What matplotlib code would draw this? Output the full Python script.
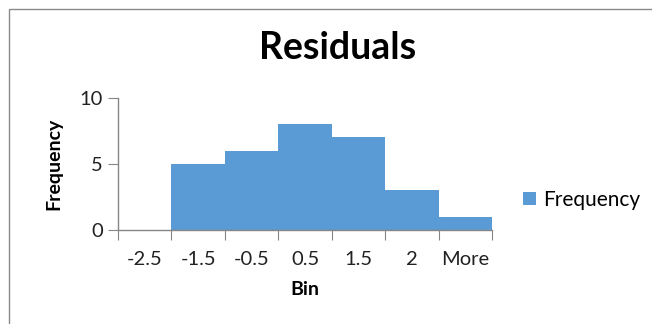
import matplotlib.pyplot as plt
from matplotlib.patches import Rectangle
import numpy as np

plt.rcParams['font.family'] = ['Lato', 'DejaVu Sans']

# Histogram bins and counts
bins = ['-2.5', '-1.5', '-0.5', '0.5', '1.5', '2', 'More']
frequency = [0, 5, 6, 8, 7, 3, 1]

bar_color = '#5B9BD5'
axis_color = '#868686'

fig = plt.figure(figsize=(6.52, 3.24), dpi=100)
ax = fig.add_axes([0.181, 0.291, 0.574, 0.407])

x = np.arange(len(bins))
ax.bar(x, frequency, width=1.0, color=bar_color, label='Frequency')

ax.set_xlim(-0.5, len(bins) - 0.5)
ax.set_ylim(0, 10)
ax.set_yticks([0, 5, 10])

# ticks sit on bin edges, labels sit at bin centres
ax.set_xticks(np.arange(len(bins) + 1) - 0.5)
ax.set_xticklabels([])
ax.set_xticks(x, minor=True)
ax.set_xticklabels(bins, minor=True)
ax.tick_params(axis='x', which='major', length=7, color=axis_color, direction='out')
ax.tick_params(axis='x', which='minor', length=0, pad=15, labelsize=14.5, labelcolor='#222222')
ax.tick_params(axis='y', length=7, color=axis_color, pad=4, labelsize=14.5, labelcolor='#222222')

for side in ['top', 'right']:
    ax.spines[side].set_visible(False)
for side in ['left', 'bottom']:
    ax.spines[side].set_color(axis_color)
    ax.spines[side].set_linewidth(1.0)

ax.set_xlabel('Bin', fontsize=14, fontweight='bold', labelpad=10)
ax.set_ylabel('Frequency', fontsize=14, fontweight='bold', labelpad=12)

fig.text(0.518, 0.851, 'Residuals', fontsize=27, fontweight='bold', ha='center', va='center')

ax.legend(loc='center left', bbox_to_anchor=(1.06, 0.225), frameon=False,
          fontsize=15, handlelength=0.6, handleheight=0.6, handletextpad=0.35,
          borderaxespad=0)

# chart area border
fig.patches.append(Rectangle((8.5 / 652, -0.1), 1.2, 1 - 9 / 324 + 0.1,
                             transform=fig.transFigure, fill=False,
                             edgecolor='#8a8a8a', linewidth=1.0))

fig.savefig('out.png', dpi=100)
